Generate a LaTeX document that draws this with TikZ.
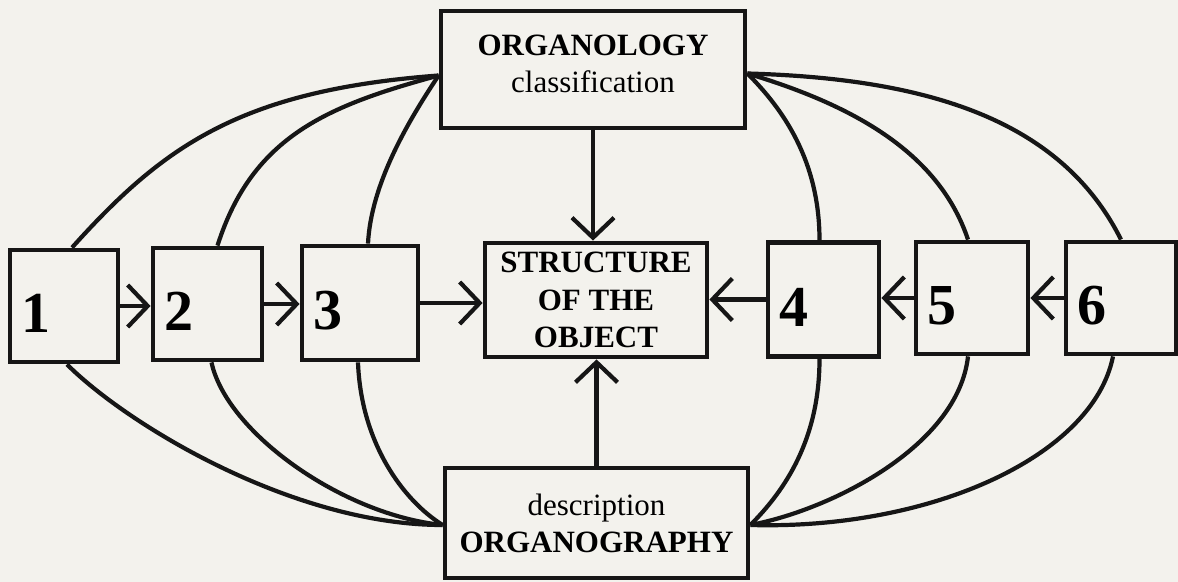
\documentclass[tikz,border=0pt]{standalone}
\usepackage{fontspec}
\setmainfont{Liberation Serif}
\usepackage{tikz}
\usetikzlibrary{positioning,arrows.meta}
\definecolor{paper}{RGB}{243,242,237}
\definecolor{ink}{RGB}{22,22,22}
\tikzstyle{numbox} = [rectangle, draw=ink, line width=2.4pt, minimum height=56pt, inner xsep=5.5pt, text height=27pt, align=left, font=\fontsize{29}{29}\selectfont\bfseries]
\tikzstyle{bigbox} = [rectangle, draw=ink, line width=2.4pt, align=center, font=\fontsize{15.5}{18.5}\selectfont]
\tikzstyle{connect} = [line width=2.1pt, draw=ink, -{Straight Barb[length=10pt,width=21pt]}]
\tikzstyle{link} = [line width=2.1pt, draw=ink]

\begin{document}
\begin{tikzpicture}[x=0.5pt, y=-0.5pt]
			\path [use as bounding box, fill=paper] (0,0) rectangle (1178,582);
			\node (top) [bigbox, minimum width=152pt, minimum height=58.5pt] at (593,69.5) {\textbf{ORGANOLOGY}\\classification\rule[-6pt]{0pt}{0pt}};
			\node (struct) [bigbox, minimum width=111pt, minimum height=57pt, font=\fontsize{15.5}{18.7}\selectfont\bfseries] at (596,300) {STRUCTURE\\OF THE\\OBJECT};
			\node (bot) [bigbox, minimum width=151.5pt, minimum height=55pt] at (596.5,523) {description\\\textbf{ORGANOGRAPHY}};
			\node (b1) [numbox, text width=43pt] at (64,306) {1};
			\node (b2) [numbox, text width=43.5pt] at (207.5,304) {2};
			\node (b3) [numbox, text width=47pt, minimum height=57pt] at (360,303) {3};
			\node (b4) [numbox, text width=44.5pt, minimum height=57pt] at (823.5,299.5) {4};
			\node (b5) [numbox, text width=45pt] at (972,298) {5};
			\node (b6) [numbox, text width=44pt] at (1121,298) {6};
			\coordinate (tl) at ([yshift=-3pt]top.west);
			\coordinate (tr) at ([yshift=-2pt]top.east);
			\coordinate (bl) at ([yshift=-1pt]bot.west);
			\coordinate (br) at ([yshift=-1pt]bot.east);
			%-----------------------------------------------
			\draw [connect] (b1.east) -- (b1.east -| b2.west);
			\draw [connect] (b2.east) -- (b2.east -| b3.west);
			\draw [connect] (b3.east) -- (b3.east -| struct.west);
			\draw [connect] (b4.west) -- (b4.west -| struct.east);
			\draw [connect] (b5.west) -- (b5.west -| b4.east);
			\draw [connect] (b6.west) -- (b6.west -| b5.east);
			\draw [connect] (top.south) -- (top.south |- struct.north);
			\draw [connect] (bot.north) -- (bot.north |- struct.south);
			%-----------------------------------------------
			\draw [link] ([xshift=4pt]b1.north) .. controls +(90,-100) and +(-200,15) .. (tl);
			\draw [link] ([xshift=5pt]b2.north) .. controls +(35,-110) and +(-110,30) .. (tl);
			\draw [link] ([xshift=4pt]b3.north) .. controls +(3,-60) and +(-30,45) .. (tl);
			\draw [link] ([xshift=-2pt]b4.north) .. controls +(0,-80) and +(35,35) .. (tr);
			\draw [link] ([xshift=-2pt]b5.north) .. controls +(-30,-90) and +(100,30) .. (tr);
			\draw [link] (b6.north) .. controls +(-60,-120) and +(180,5) .. (tr);
			\draw [link] ([xshift=1.5pt]b1.south) .. controls +(60,60) and +(-150,0) .. (bl);
			\draw [link] ([xshift=2pt]b2.south) .. controls +(15,70) and +(-100,-10) .. (bl);
			\draw [link] ([xshift=-1pt]b3.south) .. controls +(3,80) and +(-40,-25) .. (bl);
			\draw [link] ([xshift=-2pt]b4.south) .. controls +(0,80) and +(35,-35) .. (br);
			\draw [link] ([xshift=-2pt]b5.south) .. controls +(-10,90) and +(80,-15) .. (br);
			\draw [link] ([xshift=-4pt]b6.south) .. controls +(-20,100) and +(180,5) .. (br);
\end{tikzpicture}
\end{document}
